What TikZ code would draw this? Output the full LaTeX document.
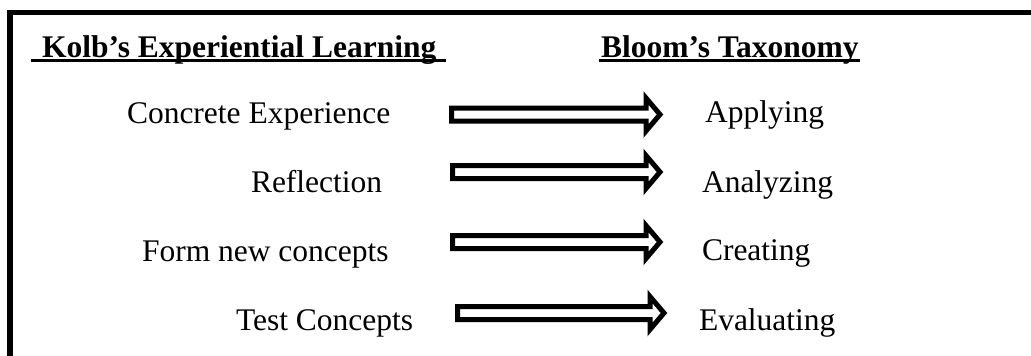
\documentclass[tikz,border=0pt]{standalone}
\usepackage{fontspec}
\setmainfont{Liberation Serif}
\usetikzlibrary{calc}
\begin{document}
\begin{tikzpicture}[x=1pt,y=-1pt,
  txt/.style={anchor=base west,inner sep=0pt,outer sep=0pt,font=\fontsize{31.5pt}{36pt}\selectfont},
  head/.style={txt,font=\fontsize{31.5pt}{36pt}\selectfont\bfseries},
  uline/.style={line width=3pt},
  frame/.style={line width=5.5pt},
  blockarr/.style={draw=black,fill=white,line width=5pt,line join=miter,miter limit=10,
    to path={let \p1=(\tikztostart), \p2=(\tikztotarget) in
      (\x1,\y1+6.5pt) -- (\x2-14pt,\y1+6.5pt) -- (\x2-14pt,\y1+16.5pt) -- (\x2,\y1)
      -- (\x2-14pt,\y1-16.5pt) -- (\x2-14pt,\y1-6.5pt) -- (\x1,\y1-6.5pt) -- cycle}}]
\useasboundingbox (0,0) rectangle (1031,356);
% frame (open at right and bottom)
\draw[frame] (10,362) -- (10,12.5) -- (1037,12.5);
% headings
\node[head] (h1) at (42,57) {Kolb’s Experiential Learning};
\node[head] (h2) at (601,57) {Bloom’s Taxonomy};
\draw[uline] ($(h1.base west)+(-11,3)$) -- ($(h1.base east)+(10,3)$);
\draw[uline] ($(h2.base west)+(-2,3)$) -- ($(h2.base east)+(1,3)$);
% left column
\node[txt] (k1) at (127,123) {Concrete Experience};
\node[txt] (k2) at (251,192) {Reflection};
\node[txt] (k3) at (142,261) {Form new concepts};
\node[txt] (k4) at (236,330) {Test Concepts};
% right column
\node[txt] (b1) at (705,122) {Applying};
\node[txt] (b2) at (702,192) {Analyzing};
\node[txt] (b3) at (702,260) {Creating};
\node[txt] (b4) at (699,330) {Evaluating};
% arrows
\coordinate (s1) at (451.5,114.5); \coordinate (e1) at (660,114.5);
\coordinate (s2) at (452.5,172);   \coordinate (e2) at (660,172);
\coordinate (s3) at (452.5,242);   \coordinate (e3) at (660,242);
\coordinate (s4) at (457.5,313);   \coordinate (e4) at (664,313);
\path (s1) edge[blockarr] (e1);
\path (s2) edge[blockarr] (e2);
\path (s3) edge[blockarr] (e3);
\path (s4) edge[blockarr] (e4);
\end{tikzpicture}
\end{document}
